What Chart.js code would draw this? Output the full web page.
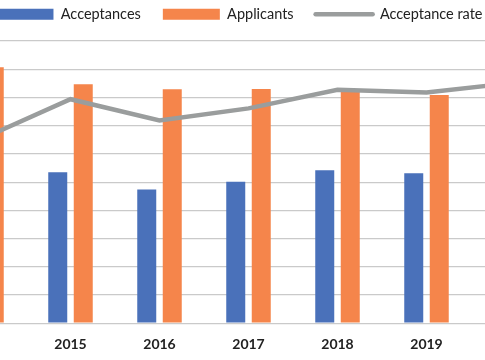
<!DOCTYPE html>
<html>
<head>
<meta charset="utf-8">
<script src="https://cdn.jsdelivr.net/npm/chart.js@4"></script>
<style>
  html, body { margin: 0; padding: 0; background: #fff; overflow: hidden; width: 485px; height: 360px; }
  #c { position: absolute; left: -63px; top: -15px; }
</style>
</head>
<body>
<canvas id="c" width="623" height="381"></canvas>
<script>
// --- DATA --- //
const years = ["2014", "2015", "2016", "2017", "2018", "2019", "2020"];
const acceptances = [4730, 5350, 4740, 5010, 5420, 5310, 5500];
const applicants = [9070, 8470, 8290, 8300, 8190, 8090, 8060];
const acceptanceRate = [52.2, 63.5, 57.5, 60.9, 66.2, 65.4, 68.2]; // percent

const BLUE = "#4A71BA";
const ORANGE = "#F5854B";
const GREY = "#9A9D9D";

// extra room under the legend, and nudge it a little to the left
const legendTweak = {
  id: "legendTweak",
  beforeInit(chart) {
    const fit = chart.legend.fit;
    chart.legend.fit = function () {
      fit.bind(chart.legend)();
      this.height += 9.5;
    };
  },
  afterLayout(chart) {
    chart.legend.left -= 9;
    chart.legend.right -= 9;
  },
};

new Chart(document.getElementById("c"), {
  type: "bar",
  data: {
    labels: years,
    datasets: [
      {
        label: "Acceptances",
        data: acceptances,
        backgroundColor: BLUE,
        order: 1,
        yAxisID: "y",
      },
      {
        label: "Applicants",
        data: applicants,
        backgroundColor: ORANGE,
        order: 1,
        yAxisID: "y",
      },
      {
        type: "line",
        label: "Acceptance rate",
        data: acceptanceRate,
        borderColor: GREY,
        borderWidth: 4.5,
        pointRadius: 0,
        tension: 0,
        order: 0,
        yAxisID: "y2",
      },
    ],
  },
  options: {
    responsive: false,
    animation: false,
    categoryPercentage: 0.573,
    barPercentage: 0.745,
    layout: { padding: 0 },
    plugins: {
      tooltip: { enabled: false },
      legend: {
        position: "top",
        labels: {
          usePointStyle: true,
          pointStyleWidth: 57,
          boxHeight: 11,
          padding: 22,
          color: "#222",
          font: { family: "Lato", size: 14.5 },
          generateLabels(chart) {
            return chart.data.datasets.map((ds, i) => {
              const isLine = ds.type === "line";
              return {
                text: ds.label,
                datasetIndex: i,
                fillStyle: isLine ? GREY : ds.backgroundColor,
                strokeStyle: isLine ? GREY : ds.backgroundColor,
                lineWidth: isLine ? 4.5 : 0,
                lineCap: "round",
                pointStyle: isLine ? "line" : "rect",
                hidden: false,
                fontColor: "#222",
              };
            });
          },
        },
      },
    },
    scales: {
      x: {
        grid: { display: false, drawTicks: false },
        border: { display: false },
        ticks: {
          padding: 13,
          color: "#222",
          font: { family: "Lato", size: 14, weight: "bold" },
        },
      },
      y: {
        min: 0,
        max: 10000,
        grid: { color: "#cacaca", lineWidth: 1.2, drawTicks: false },
        border: { display: false },
        ticks: { display: false, stepSize: 1000 },
      },
      y2: {
        display: false,
        min: 0,
        max: 80,
      },
    },
  },
  plugins: [legendTweak],
});
</script>
</body>
</html>
